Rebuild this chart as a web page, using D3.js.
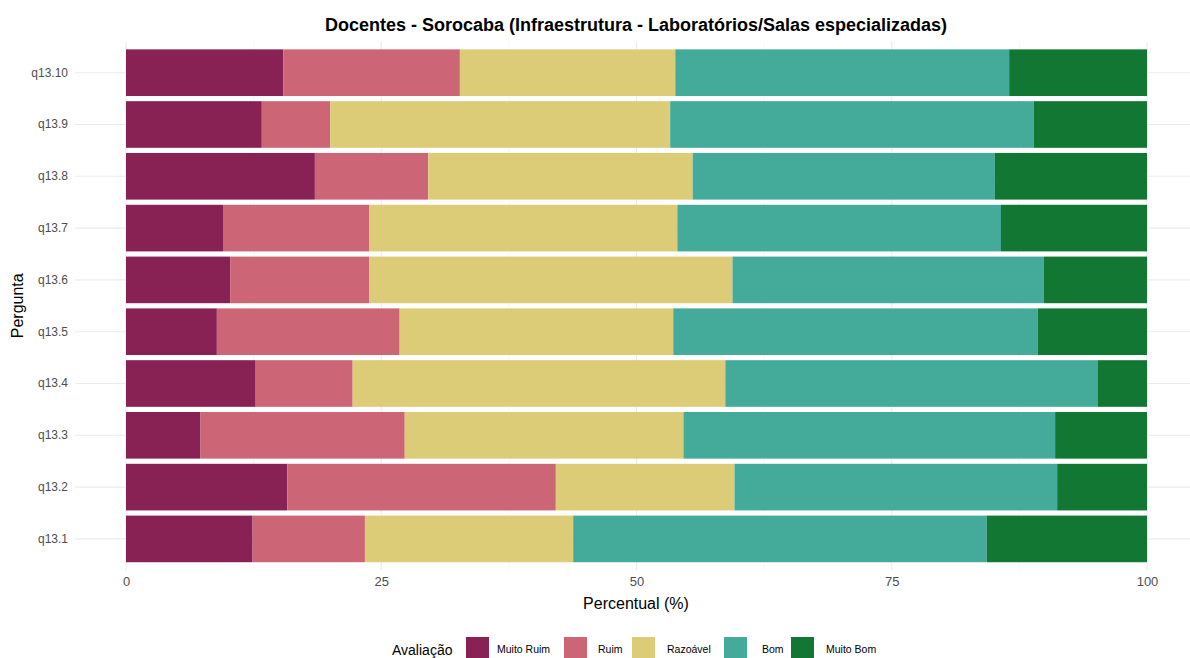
<!DOCTYPE html>
<html>
<head>
<meta charset="utf-8">
<script src="https://cdn.jsdelivr.net/npm/d3@7"></script>
<style>
  body { margin: 0; background: #fff; }
  svg { font-family: "Liberation Sans", Arial, sans-serif; }
</style>
</head>
<body>
<div id="chart"></div>
<script>
// Questions, top to bottom as drawn
const questions = ["q13.10", "q13.9", "q13.8", "q13.7", "q13.6", "q13.5", "q13.4", "q13.3", "q13.2", "q13.1"];
const levels = ["Muito Ruim", "Ruim", "Razoável", "Bom", "Muito Bom"];
const colors = ["#882255", "#CC6677", "#DDCC77", "#44AA99", "#117733"];

// percentages per level, same order as questions
const muitoRuim = [15.4, 13.3, 18.5, 9.5, 10.2, 8.9, 12.7, 7.3, 15.8, 12.4];
const ruim      = [17.3, 6.7, 11.1, 14.3, 13.6, 17.9, 9.5, 20.0, 26.3, 11.0];
const razoavel  = [21.1, 33.3, 25.9, 30.2, 35.6, 26.8, 36.5, 27.3, 17.5, 20.4];
const bom       = [32.7, 35.6, 29.6, 31.7, 30.5, 35.7, 36.5, 36.4, 31.6, 40.5];
const muitoBom  = [13.5, 11.1, 14.9, 14.3, 10.1, 10.7, 4.8, 9.0, 8.8, 15.7];

const xTicks = [0, 25, 50, 75, 100];

const width = 1190, height = 658;
const panel = { left: 75, right: 1198, top: 41.6, bottom: 570 };

const svg = d3.select("#chart").append("svg")
    .attr("width", width)
    .attr("height", height);

const x = d3.scaleLinear().domain([0, 100]).range([126, 1147]);
const y = d3.scaleBand().domain(questions)
    .range([panel.top, panel.bottom])
    .paddingInner(0.1)
    .paddingOuter(0.15);

// build stacked table
const table = questions.map((q, i) => ({
    q,
    "Muito Ruim": muitoRuim[i],
    "Ruim": ruim[i],
    "Razoável": razoavel[i],
    "Bom": bom[i],
    "Muito Bom": muitoBom[i]
}));
const stacked = d3.stack().keys(levels)(table);

// grid lines
const grid = svg.append("g");
d3.range(12.5, 100, 25).forEach(v => {
    grid.append("line")
        .attr("x1", x(v)).attr("x2", x(v))
        .attr("y1", panel.top).attr("y2", panel.bottom)
        .attr("stroke", "#f2f2f2").attr("stroke-width", 0.6);
});
xTicks.forEach(v => {
    grid.append("line")
        .attr("x1", x(v)).attr("x2", x(v))
        .attr("y1", panel.top).attr("y2", panel.bottom)
        .attr("stroke", "#ebebeb").attr("stroke-width", 1.1);
});
questions.forEach(q => {
    grid.append("line")
        .attr("x1", panel.left).attr("x2", panel.right)
        .attr("y1", y(q) + y.bandwidth() / 2).attr("y2", y(q) + y.bandwidth() / 2)
        .attr("stroke", "#ebebeb").attr("stroke-width", 1.1);
});

// bars
svg.append("g")
    .selectAll("g")
    .data(stacked)
    .join("g")
    .attr("fill", (d, i) => colors[i])
    .selectAll("rect")
    .data(d => d)
    .join("rect")
    .attr("x", d => x(d[0]))
    .attr("width", d => x(d[1]) - x(d[0]))
    .attr("y", d => y(d.data.q))
    .attr("height", y.bandwidth());

// axes
const xAxis = svg.append("g")
    .attr("transform", `translate(0,${panel.bottom})`)
    .call(d3.axisBottom(x).tickValues(xTicks).tickSize(0).tickPadding(7));
xAxis.select(".domain").remove();
xAxis.selectAll("text")
    .attr("fill", "#4d4d4d")
    .style("font-size", "13px")
    .style("font-family", "Liberation Sans, Arial, sans-serif");

const yAxis = svg.append("g")
    .attr("transform", `translate(${panel.left},0)`)
    .call(d3.axisLeft(y).tickSize(0).tickPadding(7));
yAxis.select(".domain").remove();
yAxis.selectAll("text")
    .attr("fill", "#4d4d4d")
    .style("font-size", "12px")
    .style("font-family", "Liberation Sans, Arial, sans-serif");

// titles
svg.append("text")
    .attr("x", 636).attr("y", 31)
    .attr("text-anchor", "middle")
    .style("font-size", "18px")
    .style("font-weight", "bold")
    .text("Docentes - Sorocaba (Infraestrutura - Laboratórios/Salas especializadas)");

svg.append("text")
    .attr("x", 636).attr("y", 609)
    .attr("text-anchor", "middle")
    .style("font-size", "16px")
    .text("Percentual (%)");

svg.append("text")
    .attr("transform", `translate(23,${(panel.top + panel.bottom) / 2}) rotate(-90)`)
    .attr("text-anchor", "middle")
    .style("font-size", "16px")
    .text("Pergunta");

// legend
const legend = svg.append("g");
legend.append("text")
    .attr("x", 392).attr("y", 655)
    .style("font-size", "14px")
    .text("Avaliação");
const keyX = [466, 564, 632, 724, 791];
const labelX = [497, 598, 667, 762, 826];
levels.forEach((lv, i) => {
    legend.append("rect")
        .attr("x", keyX[i]).attr("y", 637)
        .attr("width", 23).attr("height", 23)
        .attr("fill", colors[i]);
    legend.append("text")
        .attr("x", labelX[i]).attr("y", 653)
        .style("font-size", "10.5px")
        .text(lv);
});
</script>
</body>
</html>
